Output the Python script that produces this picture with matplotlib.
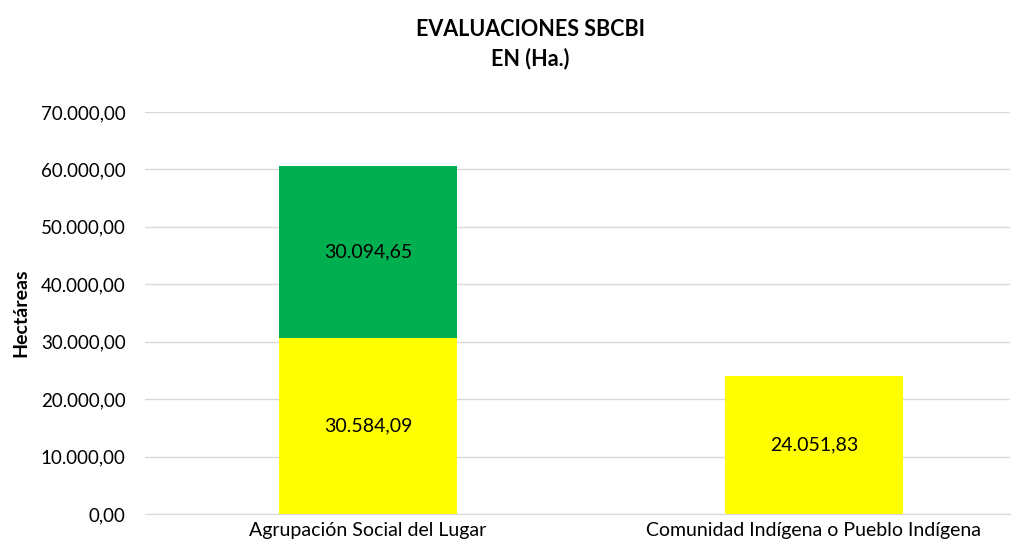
import matplotlib.pyplot as plt
import numpy as np

plt.rcParams['font.family'] = ['Lato', 'DejaVu Sans']

categorias = ['Agrupación Social del Lugar', 'Comunidad Indígena o Pueblo Indígena']
serie_amarilla = [30584.09, 24051.83]
serie_verde = [30094.65, 0]
etiquetas_amarilla = ['30.584,09', '24.051,83']
etiquetas_verde = ['30.094,65', '']


def fmt(v, pos=None):
    s = '{:,.2f}'.format(v)
    return s.replace(',', 'X').replace('.', ',').replace('X', '.')


fig = plt.figure(figsize=(10.22, 5.52), dpi=100)
ax = fig.add_axes([145 / 1022, 38 / 552, 865 / 1022, 402 / 552])

x = np.arange(len(categorias))
ancho = 0.40
b1 = ax.bar(x, serie_amarilla, ancho, color='#FFFF00', zorder=2)
b2 = ax.bar(x, serie_verde, ancho, bottom=serie_amarilla, color='#00B050', zorder=2)

for i in range(len(x)):
    ax.text(x[i], serie_amarilla[i] / 2, etiquetas_amarilla[i], ha='center', va='center', fontsize=14)
    if serie_verde[i] > 0:
        ax.text(x[i], serie_amarilla[i] + serie_verde[i] / 2, etiquetas_verde[i],
                ha='center', va='center', fontsize=14)

ax.set_ylim(0, 70000)
ax.set_xlim(-0.5, 1.44)
ax.set_yticks(np.arange(0, 70001, 10000))
ax.yaxis.set_major_formatter(plt.FuncFormatter(fmt))
ax.set_xticks(x)
ax.set_xticklabels(categorias, fontsize=14)
ax.tick_params(axis='y', labelsize=13.5, length=0, pad=14)
ax.tick_params(axis='x', length=0, pad=6)
ax.grid(axis='y', color='#D9D9D9', linewidth=1, zorder=0)
for s in ['top', 'right', 'left']:
    ax.spines[s].set_visible(False)
ax.spines['bottom'].set_color('#D9D9D9')

ax.set_ylabel('Hectáreas', fontsize=14, fontweight='bold', labelpad=8)
fig.text(530 / 1022, 1 - 44 / 552, 'EVALUACIONES SBCBI\nEN (Ha.)', ha='center', va='center',
         fontsize=15.5, fontweight='bold', linespacing=1.4)

plt.savefig('out.png', dpi=100)
